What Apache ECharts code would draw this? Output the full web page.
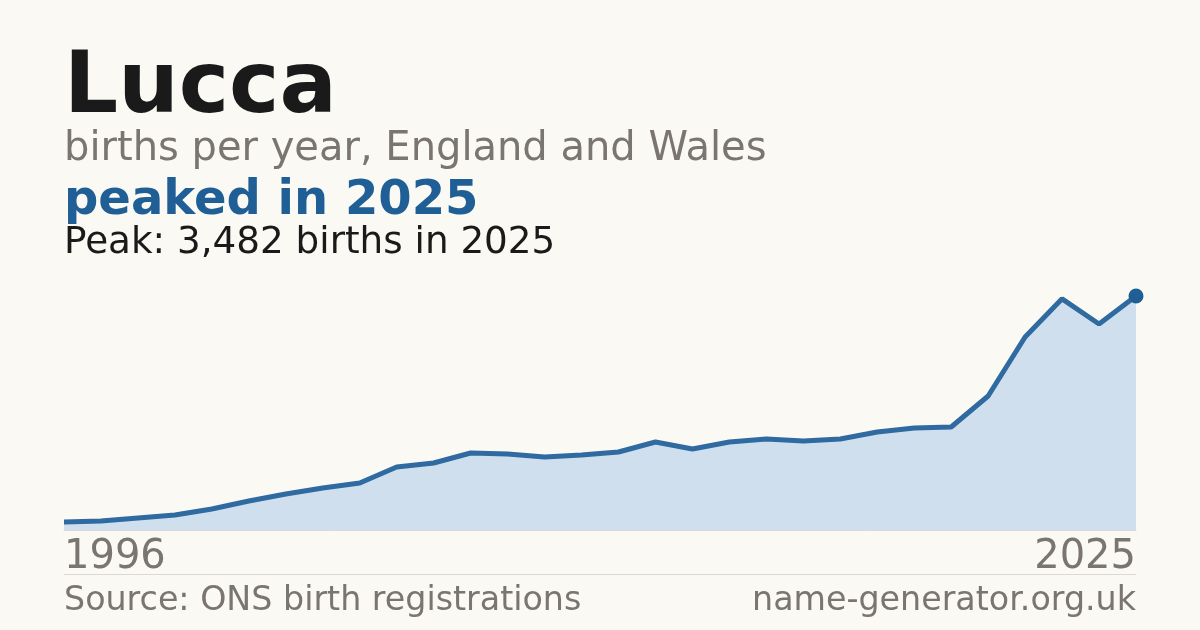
<!DOCTYPE html>
<html>
<head>
<meta charset="utf-8">
<script src="https://cdn.jsdelivr.net/npm/echarts@6/dist/echarts.min.js"></script>
<style>
html,body{margin:0;padding:0;background:#faf9f4;}
#c{width:1200px;height:630px;}
</style>
</head>
<body>
<div id="c"></div>
<script>
var years = ['1996','1997','1998','1999','2000','2001','2002','2003','2004','2005','2006','2007','2008','2009','2010','2011','2012','2013','2014','2015','2016','2017','2018','2019','2020','2021','2022','2023','2024','2025'];
var births = [119,134,179,223,312,431,536,625,699,937,997,1146,1131,1086,1116,1161,1309,1205,1309,1354,1324,1354,1458,1518,1533,1994,2872,3440,3065,3482];
var titleText = 'Lucca';
var subtitleText = 'births per year, England and Wales';
var headlineText = 'peaked in 2025';
var peakText = 'Peak: 3,482 births in 2025';
var sourceText = 'Source: ONS birth registrations';
var siteText = 'name-generator.org.uk';

var FONT = '"DejaVu Sans", sans-serif';
var chart = echarts.init(document.getElementById('c'), null, {renderer: 'canvas'});
var last = births.length - 1;
chart.setOption({
  backgroundColor: '#faf9f4',
  animation: false,
  grid: {left: 64, right: 64, top: 296, bottom: 100, containLabel: false},
  xAxis: {
    type: 'category',
    data: years,
    boundaryGap: false,
    axisLine: {show: true, lineStyle: {color: '#dcd9d2', width: 1}},
    axisTick: {show: false},
    splitLine: {show: false},
    axisLabel: {
      interval: function (i) { return i === 0 || i === last; },
      showMinLabel: true,
      showMaxLabel: true,
      alignMinLabel: 'left',
      alignMaxLabel: 'right',
      margin: 8,
      color: '#7a756e',
      fontSize: 40,
      fontFamily: FONT
    }
  },
  yAxis: {
    type: 'value',
    min: 0,
    max: 3482,
    show: false,
    splitLine: {show: false}
  },
  series: [{
    type: 'line',
    data: births,
    symbol: 'none',
    lineStyle: {color: '#2f6aa1', width: 5},
    areaStyle: {color: '#cfdfee', opacity: 1},
    z: 2,
    markPoint: {
      symbol: 'circle',
      symbolSize: 15,
      itemStyle: {color: '#1f5f96'},
      label: {show: false},
      data: [{coord: [years[last], births[last]]}]
    }
  }],
  graphic: [
    {type: 'text', x: 64, y: 90, style: {text: titleText, font: 'bold 85px ' + FONT, fill: '#1a1a1a', verticalAlign: 'middle'}},
    {type: 'text', x: 64, y: 150, style: {text: subtitleText, font: '40px ' + FONT, fill: '#7a756e', verticalAlign: 'middle'}},
    {type: 'text', x: 64, y: 202, style: {text: headlineText, font: 'bold 48px ' + FONT, fill: '#1f5f96', verticalAlign: 'middle'}},
    {type: 'text', x: 64, y: 243, style: {text: peakText, font: '37.3px ' + FONT, fill: '#1a1a1a', verticalAlign: 'middle'}},
    {type: 'line', shape: {x1: 64, y1: 574.5, x2: 1136, y2: 574.5}, style: {stroke: '#dcd9d2', lineWidth: 1}},
    {type: 'text', x: 64, y: 601, style: {text: sourceText, font: '33.3px ' + FONT, fill: '#7a756e', verticalAlign: 'middle'}},
    {type: 'text', x: 1136, y: 601, style: {text: siteText, font: '33.3px ' + FONT, fill: '#7a756e', verticalAlign: 'middle', align: 'right'}}
  ]
});
</script>
</body>
</html>
